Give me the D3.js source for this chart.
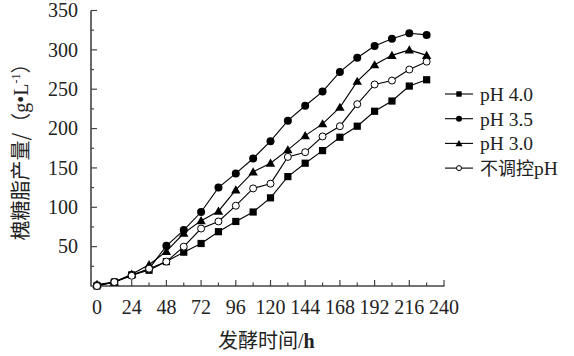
<!DOCTYPE html>
<html><head><meta charset="utf-8">
<script src="https://cdn.jsdelivr.net/npm/d3@7"></script>
<style>body{margin:0;background:#fff}svg{display:block}</style>
</head><body>
<script>
const hours = [0,12,24,36,48,60,72,84,96,108,120,132,144,156,168,180,192,204,216,228];
const ph40 = [0,5,14,20,31,43,54,69,82,94,112,139,156,172,189,203,222,235,254,262];
const ph35 = [1,5,14,22,51,71,94,125,143,162,184,210,229,247,272,290,305,314,321,319];
const ph30 = [2,5,15,27,44,67,83,95,122,145,156,173,191,206,227,260,281,293,300,293];
const noCtrl = [0,5,13,22,31,50,73,82,102,124,130,164,170,190,203,231,256,261,275,285];
const seriesNames = ["pH 4.0","pH 3.5","pH 3.0","不调控pH"];
const seriesMarkers = ["square","circle","triangle","open"];
const xTicks = [0,24,48,72,96,120,144,168,192,216,240];
const yTicks = [50,100,150,200,250,300,350];

const W=574,H=356;
const svg=d3.select("body").append("svg").attr("width",W).attr("height",H);
const x=d3.scaleLinear().domain([0,240]).range([97,444]);
const y=d3.scaleLinear().domain([0,350]).range([286,10.5]);
const axisX=91, axisCol="#444";
const serif="'Liberation Serif','Times New Roman',serif";
const cjk="'Noto Sans CJK SC',sans-serif";

// axes
const g=svg.append("g");
g.append("line").attr("x1",axisX).attr("x2",axisX).attr("y1",y(350)).attr("y2",286.5).attr("stroke",axisCol).attr("stroke-width",1.6);
g.append("line").attr("x1",axisX).attr("x2",x(240)+0.5).attr("y1",286).attr("y2",286).attr("stroke",axisCol).attr("stroke-width",1.6);
d3.range(25,351,25).forEach(v=>{
  const major=v%50===0;
  g.append("line").attr("x1",axisX).attr("x2",axisX+(major?6:3)).attr("y1",y(v)).attr("y2",y(v)).attr("stroke",axisCol).attr("stroke-width",1.2);
});
yTicks.forEach(v=>{
  g.append("text").attr("x",78).attr("y",y(v)).attr("dy","0.34em").attr("text-anchor","end")
   .attr("font-family",serif).attr("font-size",20).attr("fill","#222").text(v);
});
d3.range(12,241,12).forEach(v=>{
  const major=v%24===0;
  g.append("line").attr("x1",x(v)).attr("x2",x(v)).attr("y1",286).attr("y2",286-(major?6:3.5)).attr("stroke",axisCol).attr("stroke-width",1.2);
});
xTicks.forEach(v=>{
  g.append("text").attr("x",x(v)).attr("y",314).attr("text-anchor","middle")
   .attr("font-family",serif).attr("font-size",20).attr("fill","#222").text(v);
});
// axis titles
const xt=g.append("text").attr("x",218).attr("y",348).attr("font-size",20).attr("fill","#222");
xt.append("tspan").attr("font-family",cjk).text("发酵时间");
xt.append("tspan").attr("font-family",serif).text("/");
xt.append("tspan").attr("font-family",serif).attr("font-weight","bold").text("h");

const yt=g.append("text").attr("transform","translate(28,147) rotate(-90)").attr("text-anchor","middle").attr("font-size",20).attr("fill","#222");
yt.append("tspan").attr("font-family",cjk).text("槐糖脂产量/（");
yt.append("tspan").attr("font-family",serif).text("g•L");
yt.append("tspan").attr("font-family",serif).attr("font-size",12).attr("dy",-8).text("-1");
yt.append("tspan").attr("font-family",cjk).attr("dy",8).text("）");

function marker(sel,type,cx,cy,s){
  if(type==="square") sel.append("rect").attr("x",cx-s*0.45).attr("y",cy-s*0.45).attr("width",s*0.9).attr("height",s*0.9).attr("fill","#000");
  else if(type==="circle") sel.append("circle").attr("cx",cx).attr("cy",cy).attr("r",s*0.5).attr("fill","#000");
  else if(type==="triangle") sel.append("path").attr("d",d3.symbol(d3.symbolTriangle,s*s*0.6)()).attr("transform",`translate(${cx},${cy+0.8})`).attr("fill","#000");
  else sel.append("circle").attr("cx",cx).attr("cy",cy).attr("r",s*0.5-0.5).attr("fill","#fff").attr("stroke","#000").attr("stroke-width",1);
}
const allSeries=[ph40,ph35,ph30,noCtrl];
const line=d3.line().x((d,i)=>x(hours[i])).y(d=>y(d));
allSeries.forEach((vals,k)=>{
  const sg=svg.append("g");
  sg.append("path").attr("d",line(vals)).attr("fill","none").attr("stroke","#000").attr("stroke-width",1.1);
  vals.forEach((v,i)=>marker(sg,seriesMarkers[k],x(hours[i]),y(v),8));
});

// legend
const lg=svg.append("g");
seriesNames.forEach((nm,k)=>{
  const cy=94+k*24.7;
  lg.append("line").attr("x1",445).attr("x2",473).attr("y1",cy).attr("y2",cy).attr("stroke","#000").attr("stroke-width",1.1);
  marker(lg,seriesMarkers[k],459,cy,6);
  const t=lg.append("text").attr("x",480).attr("y",cy).attr("dy","0.35em").attr("font-size",19.5).attr("fill","#222");
  if(k===3){t.append("tspan").attr("font-family",cjk).attr("font-size",18).text("不调控");t.append("tspan").attr("font-family",serif).text("pH");}
  else t.attr("font-family",serif).text(nm);
});
</script>
</body></html>
